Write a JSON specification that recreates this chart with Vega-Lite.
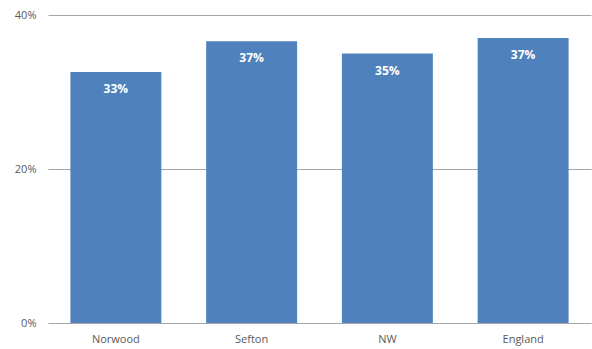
{
  "$schema": "https://vega.github.io/schema/vega-lite/v6.json",
  "width": 543,
  "height": 308,
  "autosize": "none",
  "padding": {"left": 48, "top": 15, "right": 1, "bottom": 26},
  "background": "white",
  "config": {"view": {"stroke": null}},
  "data": {"values": [
    {"area": "Norwood", "value": 0.326},
    {"area": "Sefton", "value": 0.366},
    {"area": "NW", "value": 0.350},
    {"area": "England", "value": 0.370}
  ]},
  "encoding": {
    "x": {"field": "area", "type": "nominal", "sort": null,
      "scale": {"paddingInner": 0.33, "paddingOuter": 0.165},
      "axis": {"title": null, "labelAngle": 0, "domain": false, "ticks": false, "labelPadding": 10,
        "labelFont": "Open Sans", "labelFontSize": 11, "labelColor": "#595959"}},
    "y": {"field": "value", "type": "quantitative",
      "scale": {"domain": [0, 0.4], "nice": false},
      "axis": {"title": null, "values": [0, 0.2, 0.4], "format": ".0%", "domain": false, "ticks": false,
        "labelPadding": 12, "labelFont": "Open Sans", "labelFontSize": 11, "labelColor": "#595959",
        "gridColor": "#a6a6a6", "gridWidth": 1}}
  },
  "layer": [
    {"mark": {"type": "bar", "color": "#4f81bd"}},
    {"mark": {"type": "text", "color": "white", "fontWeight": "bold", "fontSize": 12, "font": "Open Sans", "baseline": "middle", "dy": 17},
     "encoding": {"text": {"field": "value", "type": "quantitative", "format": ".0%"}}}
  ]
}
